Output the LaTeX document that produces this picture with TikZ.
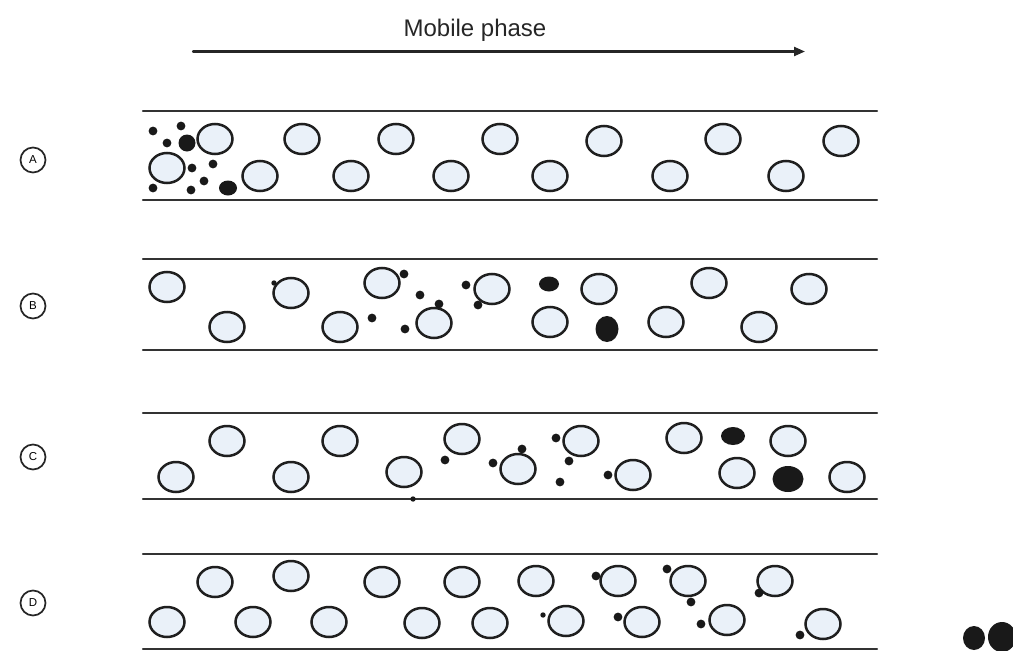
\documentclass[tikz,border=0pt]{standalone}
\usepackage{fontspec}
\setmainfont{Liberation Sans}
\usetikzlibrary{arrows.meta}
\definecolor{beadfill}{RGB}{234,241,249}
\begin{document}
\begin{tikzpicture}[x=1pt, y=-1pt, line cap=round,
    wall/.style={line width=2.3, black!80},
    bead/.style={line width=2.5, draw=black!88, fill=beadfill},
    solute/.style={fill=black!90},
    rowlabel/.style={circle, draw=black!85, line width=1.7, minimum size=25, inner sep=0pt, font=\fontsize{11.5}{12}\selectfont}]
    \useasboundingbox (0,0) rectangle (1013,651);
    % flecha de la fase movil
    \coordinate (flowstart) at (193,51.5);
    \coordinate (flowend) at (805,51.5);
    \draw[line width=2.2, black!85, -{Triangle[length=11pt, width=9pt]}] (flowstart) -- (flowend);
    \node[anchor=base, font=\fontsize{24}{28}\selectfont, black!85] (mobile) at (475,36.7) {Mobile phase};
    % paredes de la columna
    \foreach \ytop/\ybot in {111/200, 259/350, 413/499, 554/649}
        \draw[wall] (143,\ytop) -- (877,\ytop) (143,\ybot) -- (877,\ybot);
    \node[rowlabel] (labA) at (33,160) {A};
    \node[rowlabel] (labB) at (33,306) {B};
    \node[rowlabel] (labC) at (33,457) {C};
    \node[rowlabel] (labD) at (33,603) {D};
    % fase estacionaria
    \foreach \x/\y in {215/139, 167/168, 260/176, 302/139, 351/176, 396/139, 451/176, 500/139,
        550/176, 604/141, 670/176, 723/139, 786/176, 841/141,
        167/287, 227/327, 291/293, 340/327, 382/283, 434/323, 492/289, 599/289, 550/322,
        666/322, 709/283, 759/327, 809/289,
        176/477, 227/441, 291/477, 340/441, 404/472, 462/439, 518/469, 581/441, 633/475,
        684/438, 737/473, 788/441, 847/477,
        167/622, 215/582, 253/622, 291/576, 329/622, 382/582, 422/623, 462/582, 490/623,
        536/581, 566/621, 618/581, 642/622, 688/581, 727/620, 775/581, 823/624}
        \draw[bead] (\x,\y) ellipse [x radius=17.5, y radius=15];
    % moleculas de la muestra
    \foreach \x/\y in {153/131, 181/126, 167/143, 192/168, 213/164, 204/181, 191/190, 153/188,
        404/274, 420/295, 372/318, 439/304, 405/329, 466/285, 478/305,
        445/460, 493/463, 522/449, 556/438, 569/461, 560/482, 608/475,
        596/576, 618/617, 667/569, 691/602, 701/624, 759/593, 800/635}
        \fill[solute] (\x,\y) circle [radius=4.4];
    \foreach \x/\y in {274/283, 413/499, 543/615}
        \fill[solute] (\x,\y) circle [radius=2.7];
    \foreach \x/\y/\rx/\ry in {187/143/8.5/8.5, 228/188/9/7.5, 549/284/10/7.5, 607/329/11.5/13,
        733/436/12/9, 788/479/15.5/13, 974/638/11/12, 1002/637/14/15}
        \fill[solute] (\x,\y) ellipse [x radius=\rx, y radius=\ry];
\end{tikzpicture}
\end{document}
